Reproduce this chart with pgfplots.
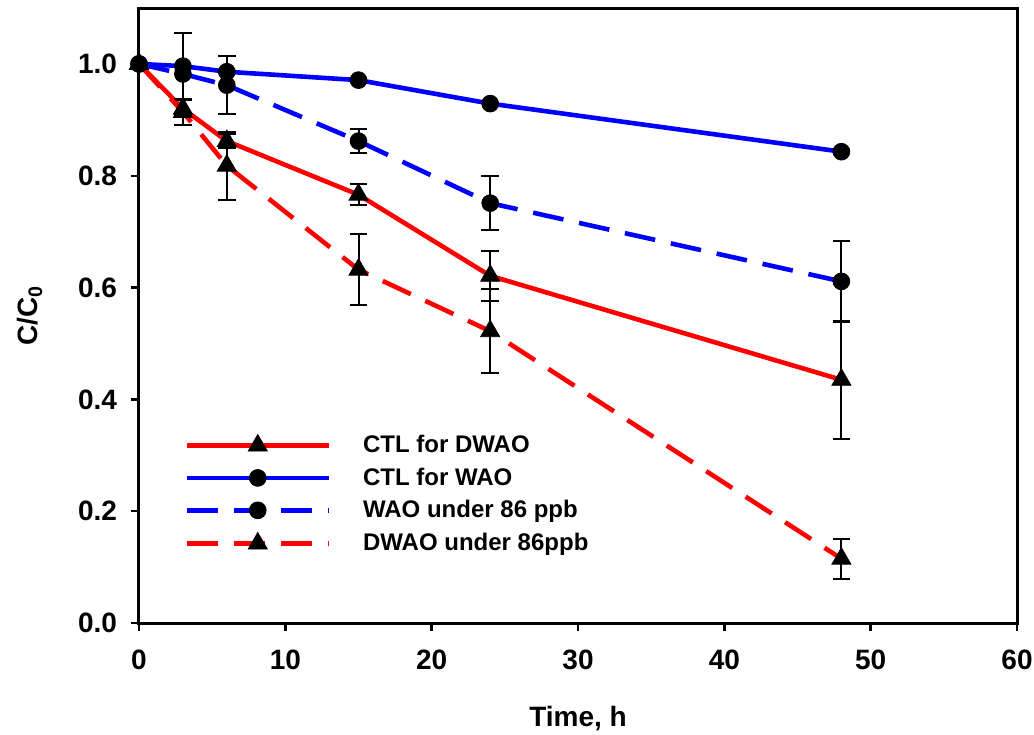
\documentclass[border=0pt]{standalone}
\usepackage{fontspec}
\setmainfont{Liberation Sans}
\usepackage{pgfplots}
\pgfplotsset{compat=1.18}
\usetikzlibrary{calc}

\pgfplotstableread{
x y e
0 1.000 0
3 0.920 0.015
6 0.862 0.013
15 0.766 0.019
24 0.621 0.045
48 0.435 0.105
}\ctldwao

\pgfplotstableread{
x y
0 1.000
3 0.996
6 0.986
15 0.971
24 0.929
48 0.843
}\ctlwao

\pgfplotstableread{
x y e
0 1.000 0
3 0.982 0.074
6 0.962 0.052
15 0.862 0.021
24 0.751 0.048
48 0.611 0.072
}\waoppb

\pgfplotstableread{
x y e
0 1.000 0
3 0.914 0.024
6 0.818 0.061
15 0.632 0.063
24 0.522 0.075
48 0.115 0.036
}\dwaoppb

\begin{document}
\begin{tikzpicture}
\begin{axis}[
  scale only axis, width=439pt, height=307.5pt,
  xmin=0, xmax=60, ymin=0, ymax=1.1,
  xtick={0,10,20,30,40,50,60},
  ytick={0,0.2,0.4,0.6,0.8,1.0},
  tick pos=left, tick align=outside,
  major tick length=4pt,
  major tick style={black, line width=1.2pt},
  axis line style={black, line width=1.5pt},
  /pgf/number format/assume math mode=true,
  ticklabel style={font=\fontsize{14}{14}\selectfont\bfseries},
  x tick label style={yshift=-6pt},
  y tick label style={xshift=-3.5pt, /pgf/number format/.cd, fixed, fixed zerofill, precision=1},
  xlabel={\textbf{Time, h}},
  ylabel={\textbf{C/C\textsubscript{0}}},
  label style={font=\fontsize{14}{14}\selectfont},
  xlabel style={at={(axis description cs:0.5,-0.1545)}, anchor=center},
  ylabel style={at={(axis description cs:-0.1241,0.5)}, anchor=center},
  legend style={draw=none, fill=none, at={(axis cs:2.67,0.345)}, anchor=north west,
    legend cell align=left, row sep=6pt, column sep=16pt,
    font=\fontsize{12}{12}\selectfont\bfseries, nodes={inner sep=0pt}},
  legend image code/.code={\draw[#1, mark repeat=2, mark phase=2] plot coordinates {(0pt,0pt) (35.5pt,0pt) (71pt,0pt)};},
  error bars/error bar style={black, line width=1pt, solid},
  error bars/error mark options={rotate=90, black, mark size=4.4pt, line width=1pt, solid},
]
\addplot[red, line width=2.3pt, mark=triangle*, mark size=5.5pt,
  mark options={solid, draw=black, fill=black, line width=0.4pt},
  error bars/.cd, y dir=both, y explicit]
  table[x=x, y=y, y error=e] {\ctldwao};
\addlegendentry{CTL for DWAO}
\addplot[blue, line width=2.3pt, mark=*, mark size=4.2pt,
  mark options={solid, draw=black, fill=black, line width=0.4pt}]
  table[x=x, y=y] {\ctlwao};
\addlegendentry{CTL for WAO}
\addplot[blue, line width=2.3pt, dash pattern=on 15.5pt off 8pt, mark=*, mark size=4.2pt,
  mark options={solid, draw=black, fill=black, line width=0.4pt},
  error bars/.cd, y dir=both, y explicit]
  table[x=x, y=y, y error=e] {\waoppb};
\addlegendentry{WAO under 86 ppb}
\addplot[red, line width=2.3pt, dash pattern=on 15.5pt off 8pt, mark=triangle*, mark size=5.5pt,
  mark options={solid, draw=black, fill=black, line width=0.4pt},
  error bars/.cd, y dir=both, y explicit]
  table[x=x, y=y, y error=e] {\dwaoppb};
\addlegendentry{DWAO under 86ppb}
\end{axis}
\pgfresetboundingbox
\path[use as bounding box] ($(current axis.south west)+(-69.5pt,-55.5pt)$) rectangle ($(current axis.north east)+(8.5pt,4pt)$);
\end{tikzpicture}
\end{document}
